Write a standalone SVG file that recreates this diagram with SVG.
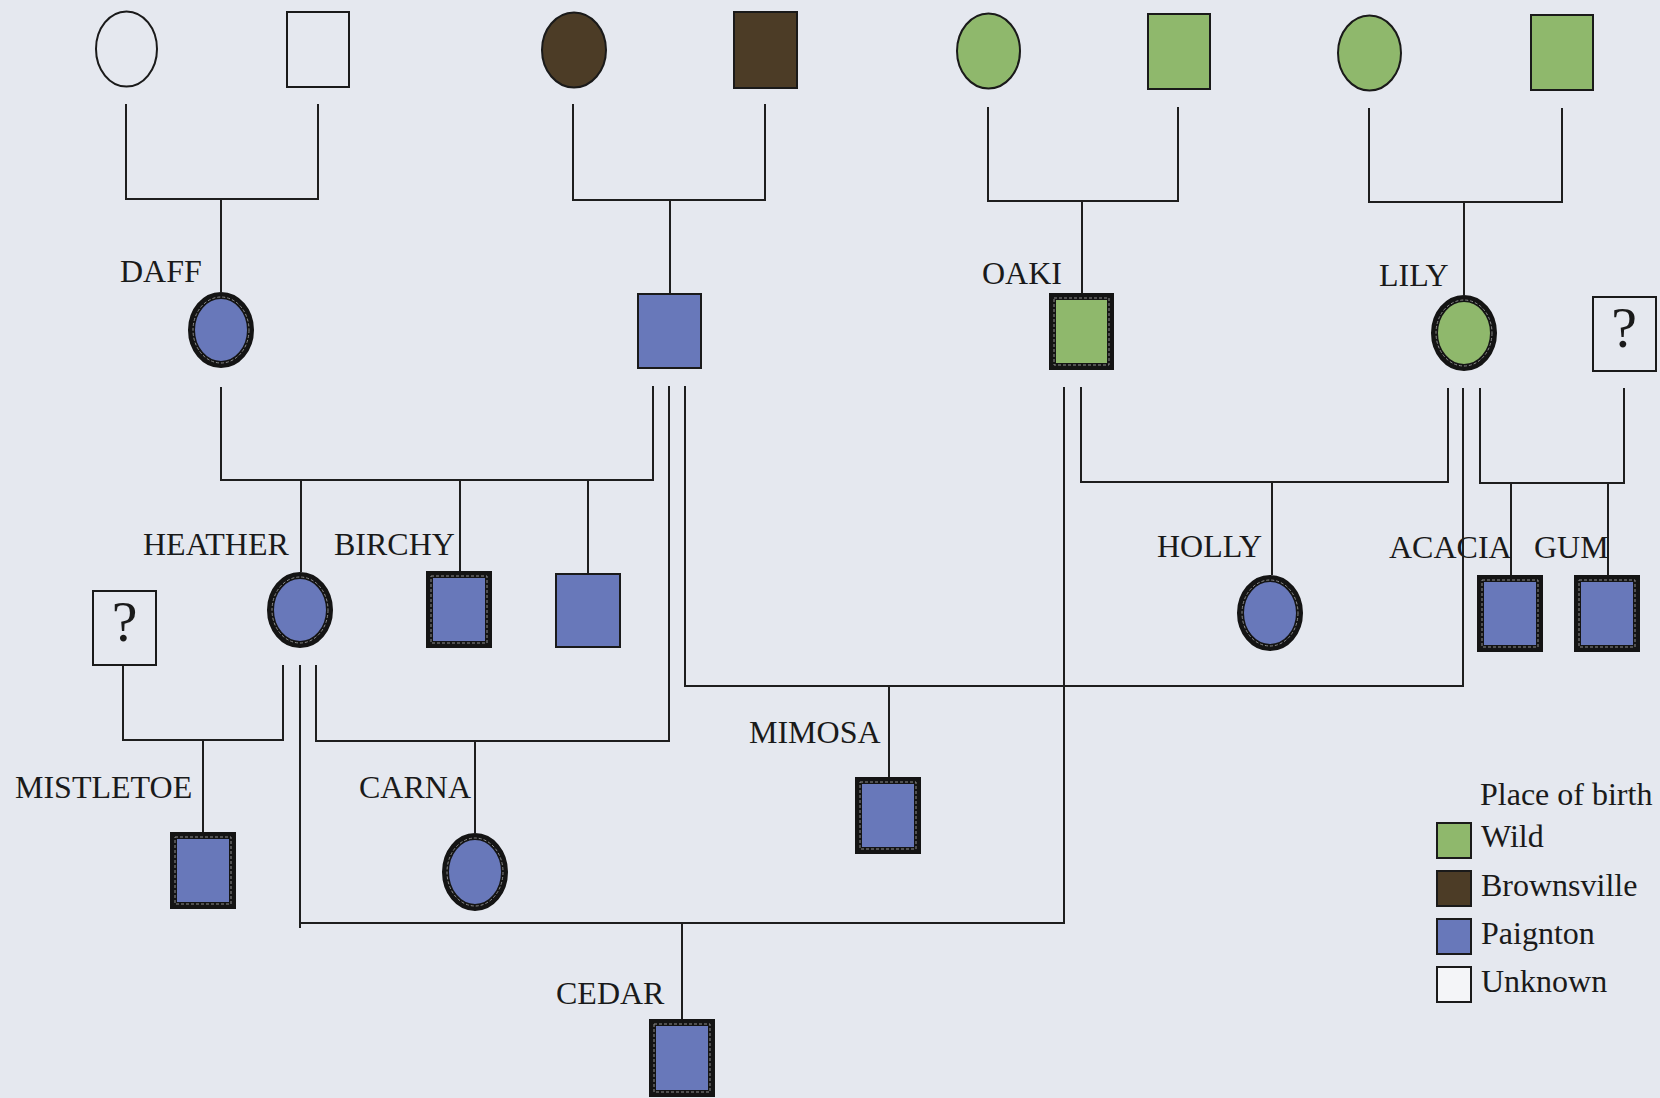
<svg xmlns="http://www.w3.org/2000/svg" width="1660" height="1098" viewBox="0 0 1660 1098">
<style>
.bg{fill:#e5e8ef}
.w{fill:none;stroke:#1a1a1a;stroke-width:2}
.br{fill:#4c3c26;stroke:#1a1a1a;stroke-width:2}
.gr{fill:#8fb86c;stroke:#1a1a1a;stroke-width:2}
.bl{fill:#6878ba;stroke:#1a1a1a;stroke-width:2}
.grT{fill:#8fb86c;stroke:#141414;stroke-width:7}
.blT{fill:#6878ba;stroke:#141414;stroke-width:7}
.inner{fill:none;stroke:#8c8c8c;stroke-width:1;stroke-dasharray:3 2}
.lbl{font-family:"Liberation Serif","Times New Roman",serif;font-size:32px;fill:#1a1a1a}
.q{font-family:"Liberation Serif","Times New Roman",serif;font-size:58px;fill:#1a1a1a;text-anchor:middle}
.ln{fill:none;stroke:#1e1e1e;stroke-width:2}
</style>
<rect class="bg" x="0" y="0" width="1660" height="1098"/>

<g id="connectors">
<path class="ln" d="M126,104 V199 H318 V104 M221,199 V292"/>
<path class="ln" d="M573,104 V200 H765 V104 M670,200 V293"/>
<path class="ln" d="M988,107 V201 H1178 V107 M1082,201 V293"/>
<path class="ln" d="M1369,108 V202 H1562 V108 M1464,202 V295"/>
<path class="ln" d="M221,387 V480 H653 V386 M301,480 V572 M460,480 V571 M588,480 V573"/>
<path class="ln" d="M669,386 V741 H316 V665 M475,741 V833"/>
<path class="ln" d="M685,386 V686 H1463 V388 M889,686 V777"/>
<path class="ln" d="M283,665 V740 H123 V666 M203,740 V832"/>
<path class="ln" d="M300,665 V928 M300,923 H1064 V387 M682,923 V1019"/>
<path class="ln" d="M1081,387 V482 H1448 V388 M1272,482 V575"/>
<path class="ln" d="M1480,388 V483 H1624 V388 M1511,483 V575 M1608,483 V575"/>
</g>

<g id="gp1-female"><ellipse class="w" cx="126.5" cy="49" rx="30.5" ry="37.5"/></g>
<g id="gp1-male"><rect class="w" x="287" y="12" width="62" height="75"/></g>
<g id="gp2-female"><ellipse class="br" cx="574" cy="50" rx="32" ry="37.5"/></g>
<g id="gp2-male"><rect class="br" x="734" y="12" width="63" height="76"/></g>
<g id="gp3-female"><ellipse class="gr" cx="988.5" cy="51" rx="31.5" ry="37.5"/></g>
<g id="gp3-male"><rect class="gr" x="1148" y="14" width="62" height="75"/></g>
<g id="gp4-female"><ellipse class="gr" cx="1369.5" cy="53" rx="31.5" ry="37.5"/></g>
<g id="gp4-male"><rect class="gr" x="1531" y="15" width="62" height="75"/></g>

<g id="daff">
<text class="lbl" x="120" y="282">DAFF</text>
<ellipse class="blT" cx="221" cy="330" rx="29.5" ry="34.5"/>
<ellipse class="inner" cx="221" cy="330" rx="28" ry="33"/>
</g>
<g id="paignton-male"><rect class="bl" x="638" y="294" width="63" height="74"/></g>
<g id="oaki">
<text class="lbl" x="982" y="284">OAKI</text>
<rect class="grT" x="1052.5" y="296.5" width="58" height="70"/>
<rect class="inner" x="1054" y="298" width="55" height="67"/>
</g>
<g id="lily">
<text class="lbl" x="1379" y="286">LILY</text>
<ellipse class="grT" cx="1464" cy="333" rx="29.5" ry="34.5"/>
<ellipse class="inner" cx="1464" cy="333" rx="28" ry="33"/>
</g>
<g id="unknown-male-right">
<rect class="w" x="1593" y="297" width="63" height="74"/>
<text class="q" x="1624" y="347">?</text>
</g>

<g id="heather">
<text class="lbl" x="143" y="555">HEATHER</text>
<ellipse class="blT" cx="300" cy="610" rx="29.5" ry="34.5"/>
<ellipse class="inner" cx="300" cy="610" rx="28" ry="33"/>
</g>
<g id="birchy">
<text class="lbl" x="334" y="555">BIRCHY</text>
<rect class="blT" x="429.5" y="574.5" width="59" height="70"/>
<rect class="inner" x="431" y="576" width="56" height="67"/>
</g>
<g id="unnamed-son"><rect class="bl" x="556" y="574" width="64" height="73"/></g>
<g id="unknown-male-left">
<rect class="w" x="93" y="591" width="63" height="74"/>
<text class="q" x="124.5" y="641">?</text>
</g>
<g id="holly">
<text class="lbl" x="1157" y="557">HOLLY</text>
<ellipse class="blT" cx="1270" cy="613" rx="29.5" ry="34.5"/>
<ellipse class="inner" cx="1270" cy="613" rx="28" ry="33"/>
</g>
<g id="acacia">
<text class="lbl" x="1389" y="558">ACACIA</text>
<rect class="blT" x="1480.5" y="578.5" width="59" height="70"/>
<rect class="inner" x="1482" y="580" width="56" height="67"/>
</g>
<g id="gum">
<text class="lbl" x="1534" y="558">GUM</text>
<rect class="blT" x="1577.5" y="578.5" width="59" height="70"/>
<rect class="inner" x="1579" y="580" width="56" height="67"/>
</g>

<g id="mimosa">
<text class="lbl" x="749" y="743">MIMOSA</text>
<rect class="blT" x="858.5" y="780.5" width="59" height="70"/>
<rect class="inner" x="860" y="782" width="56" height="67"/>
</g>
<g id="mistletoe">
<text class="lbl" x="15" y="798">MISTLETOE</text>
<rect class="blT" x="173.5" y="835.5" width="59" height="70"/>
<rect class="inner" x="175" y="837" width="56" height="67"/>
</g>
<g id="carna">
<text class="lbl" x="359" y="798">CARNA</text>
<ellipse class="blT" cx="475" cy="872" rx="29.5" ry="35.5"/>
<ellipse class="inner" cx="475" cy="872" rx="28" ry="34"/>
</g>
<g id="cedar">
<text class="lbl" x="556" y="1004">CEDAR</text>
<rect class="blT" x="652.5" y="1022.5" width="59" height="71"/>
<rect class="inner" x="654" y="1024" width="56" height="68"/>
</g>

<g id="legend">
<text class="lbl" x="1480" y="805">Place of birth</text>
<rect class="gr" x="1437" y="823" width="34" height="35"/>
<text class="lbl" x="1481" y="847">Wild</text>
<rect class="br" x="1437" y="871" width="34" height="35"/>
<text class="lbl" x="1481" y="896">Brownsville</text>
<rect class="bl" x="1437" y="919" width="34" height="35"/>
<text class="lbl" x="1481" y="944">Paignton</text>
<rect class="w" x="1437" y="967" width="34" height="35" style="fill:#f4f5f8"/>
<text class="lbl" x="1481" y="992">Unknown</text>
</g>
</svg>
